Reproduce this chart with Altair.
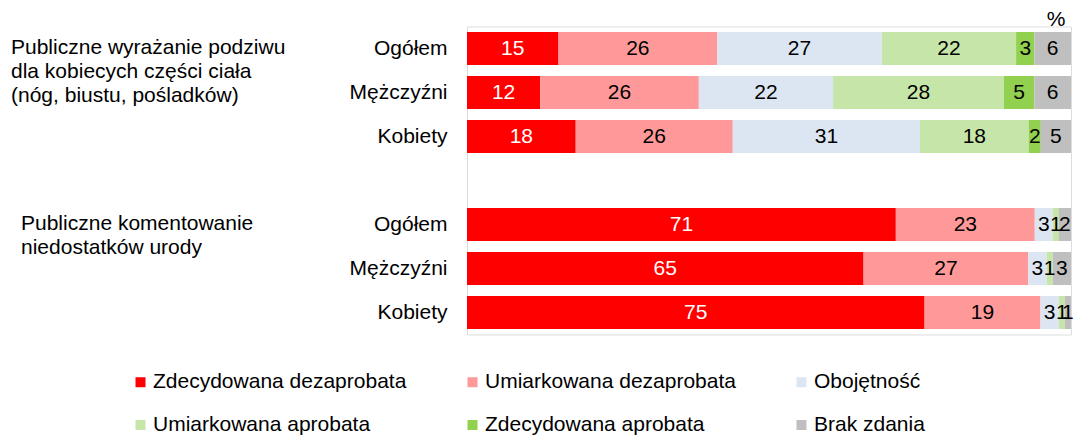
import altair as alt
import pandas as pd

categories = ["Zdecydowana dezaprobata", "Umiarkowana dezaprobata", "Obojętność",
              "Umiarkowana aprobata", "Zdecydowana aprobata", "Brak zdania"]
colors = ["#FF0000", "#FF9999", "#DCE6F2", "#C6E5A8", "#92D050", "#BFBFBF"]

groups = ["Publiczne wyrażanie podziwu\ndla kobiecych części ciała\n(nóg, biustu, pośladków)",
          "Publiczne komentowanie\nniedostatków urody"]
rows = ["Ogółem", "Mężczyźni", "Kobiety"]

g1_ogolem = [15, 26, 27, 22, 3, 6]
g1_mezczyzni = [12, 26, 22, 28, 5, 6]
g1_kobiety = [18, 26, 31, 18, 2, 5]
g2_ogolem = [71, 23, 3, 1, 0, 2]
g2_mezczyzni = [65, 27, 3, 1, 0, 3]
g2_kobiety = [75, 19, 3, 1, 0, 1]

series = {
    ("g1", "Ogółem"): g1_ogolem,
    ("g1", "Mężczyźni"): g1_mezczyzni,
    ("g1", "Kobiety"): g1_kobiety,
    ("g2", "Ogółem"): g2_ogolem,
    ("g2", "Mężczyźni"): g2_mezczyzni,
    ("g2", "Kobiety"): g2_kobiety,
}

recs = []
for (g, r), vals in series.items():
    tot = sum(vals)
    cum = 0.0
    for i, (c, v) in enumerate(zip(categories, vals)):
        start = cum / tot
        cum += v
        end = cum / tot
        recs.append(dict(key=f"{g}_{r}", cat=c, idx=i, value=v,
                         x0=start, x1=end, mid=(start + end) / 2,
                         label=str(v) if v > 0 else "",
                         tcolor="white" if i == 0 else "black"))
df = pd.DataFrame(recs)

ydomain = ["g1_Ogółem", "g1_Mężczyźni", "g1_Kobiety", "gap_",
           "g2_Ogółem", "g2_Mężczyźni", "g2_Kobiety"]

FONT = "Liberation Sans"
FS = 21

yenc = alt.Y("key:N", scale=alt.Scale(domain=ydomain, paddingInner=0.25, paddingOuter=0.125),
             axis=alt.Axis(title=None, domain=False, ticks=False, labelPadding=20,
                           labelFontSize=FS, labelFont=FONT, labelColor="black",
                           labelExpr="split(datum.label, '_')[1]"))

xscale = alt.Scale(domain=[0, 1], nice=False, zero=True)

bars = alt.Chart(df).mark_bar().encode(
    x=alt.X("x0:Q", scale=xscale, axis=None),
    x2="x1:Q",
    y=yenc,
    color=alt.Color("cat:N", scale=alt.Scale(domain=categories, range=colors),
                    legend=alt.Legend(title=None, orient="none", legendX=-337, legendY=345,
                                      direction="horizontal",
                                      columns=3, columnPadding=55, rowPadding=21,
                                      symbolType="square", symbolSize=100, symbolStrokeWidth=0,
                                      labelFontSize=FS, labelFont=FONT, labelColor="black",
                                      labelOffset=2, labelLimit=400, padding=0)),
)

labels = alt.Chart(df).mark_text(fontSize=FS, font=FONT).encode(
    x=alt.X("mid:Q", scale=xscale),
    y=alt.Y("key:N", scale=alt.Scale(domain=ydomain)),
    text="label:N",
    color=alt.Color("tcolor:N", scale=None),
)

titles_df = pd.DataFrame({"key": ["g1_Ogółem", "g2_Ogółem"], "text": groups, "grp": ["g1", "g2"]})
title1 = alt.Chart(titles_df[titles_df.grp == "g1"]).mark_text(
    align="left", baseline="top", fontSize=FS, font=FONT, lineBreak="\n", lineHeight=24,
    dy=-12, color="black").encode(
    x=alt.value(-456), y=alt.Y("key:N", scale=alt.Scale(domain=ydomain)), text="text:N")
title2 = alt.Chart(titles_df[titles_df.grp == "g2"]).mark_text(
    align="left", baseline="top", fontSize=FS, font=FONT, lineBreak="\n", lineHeight=24,
    dy=-12, color="black").encode(
    x=alt.value(-446), y=alt.Y("key:N", scale=alt.Scale(domain=ydomain)), text="text:N")

pct = alt.Chart(pd.DataFrame({"t": ["%"]})).mark_text(
    fontSize=FS, font=FONT, color="black", baseline="middle").encode(
    x=alt.value(589), y=alt.value(-7), text="t:N")

chart = alt.layer(bars, labels, title1, title2, pct).properties(
    width=604, height=308,
    padding={"left": 467, "top": 26.5, "right": 4, "bottom": 102.5},
    autosize=alt.AutoSizeParams(type="none"),
).configure_view(stroke=None).configure(background="white")

chart.save("out.html", embed_options={"renderer": "svg", "actions": False})
